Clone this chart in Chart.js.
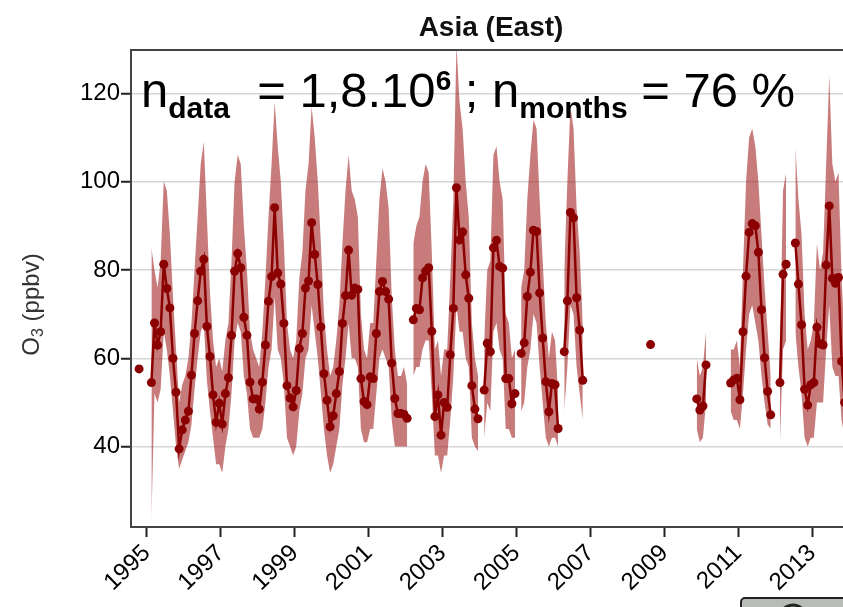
<!DOCTYPE html>
<html>
<head>
<meta charset="utf-8">
<script src="https://cdn.jsdelivr.net/npm/chart.js@4.4.1/dist/chart.umd.min.js"></script>
<style>
  html, body { margin: 0; padding: 0; background: #fff; }
  #wrap { width: 843px; height: 607px; position: relative; }
</style>
</head>
<body>
<div id="wrap"><canvas id="chart" width="843" height="607"></canvas></div>
<script>
// Monthly series, first value is October 1994
const startYear = 1994;
const startMonth = 10;

// monthly mean O3 (ppbv), one line per year
const o3Mean = [
  57.6, null, null,
  null, 54.5, 68, 63, 66, 81.3, 75.8, 71.4, 60, 52.3, 39.5, 43.8,
  46, 48, 56.2, 65.6, 73, 79.7, 82.4, 67.2, 60.4, 51.7, 45.5, 49.8,
  45.1, 52, 55.6, 65.2, 79.7, 83.7, 80.5, 69.3, 65.2, 54.6, 50.8, 50.8,
  48.5, 54.6, 63, 72.9, 78.5, 94.1, 79.3, 76.8, 67.9, 53.8, 51, 49,
  52.7, 62.2, 65.6, 75.9, 77.5, 90.7, 83.5, 76.7, 67.1, 56.5, 50.5, 44.5,
  47, 52, 57, 67.9, 74.2, 84.5, 74.3, 75.9, 75.6, 55.4, 50.2, 49.5,
  55.8, 55.4, 65.6, 75.1, 77.4, 75.1, 73.4, 58.9, 50.9, 47.5, 47.5, 47.3,
  46.4, null, 68.7, 71.3, 71, 78.2, 79.7, 80.5, 66.1, 46.8, 51.7, 42.6,
  50, 48.9, 60.8, 71.3, 98.6, 86.8, 88.6, 78.9, 73.6, 53.8, 48.5, 46.3,
  null, 52.8, 63.4, 61.5, 85, 86.7, 80.8, 80.4, 55.4, 55.4, 49.7, 52,
  null, 61.1, 63.5, 74, 79.5, 89, 88.7, 74.8, 64.6, 54.7, 47.9, 54.3,
  54, 44.1, null, 61.5, 73, 93, 91.8, 73.7, 66.4, 55, null, null,
  null, null, null, null, null, null, null, null, null, null, null, null,
  null, null, null, null, null, null, null, 63.1, null, null, null, null,
  null, null, null, null, null, null, null, null, null, null, 50.8, 48.3,
  49.2, 58.5, null, null, null, null, null, null, null, 54.4, 55.1, 55.5,
  50.6, 66, 78.6, 88.5, 90.5, 90, 84, 71, 60.1, 52.5, 47.2, null,
  null, 54.5, 79, 81.3, null, null, 86.1, 76.8, 67.6, 53, 49.4, 54,
  54.5, 67, 63.3, 63, 81.1, 94.5, 78.1, 77, 78.3, 59.3, 50, null
];

// lower edge of the shaded range
const o3Low = [
  null, null, null,
  null, 23, 52, 50, 53, 66, 62, 56, 48, 40, 35, 37,
  39, 41, 45, 53, 60, 66, 68, 55, 48, 42, 36, 36,
  34, 40, 44, 52, 64, 68, 66, 56, 52, 44, 42, 42,
  42, 44, 50, 58, 62, 74, 62, 60, 54, 42, 40, 38,
  40, 48, 52, 60, 62, 72, 66, 60, 52, 44, 38, 34,
  36, 40, 44, 54, 60, 68, 60, 60, 58, 44, 41, 41,
  44, 44, 52, 60, 62, 60, 58, 46, 40, 40, 40, 40,
  40, null, 56, 58, 58, 62, 64, 64, 52, 38, 38, 34,
  38, 38, 46, 56, 72, 66, 66, 60, 58, 42, 40, 39,
  null, 42, 50, 48, 66, 68, 62, 60, 44, 44, 42, 42,
  null, 48, 50, 58, 62, 70, 68, 58, 50, 42, 40, 42,
  42, 40, null, 48, 58, 72, 70, 58, 52, 46, null, null,
  null, null, null, null, null, null, null, null, null, null, null, null,
  null, null, null, null, null, null, null, null, null, null, null, null,
  null, null, null, null, null, null, null, null, null, null, 44, 41,
  42, 50, null, null, null, null, null, null, null, 48, 46, 46,
  44, 52, 62, 70, 72, 68, 64, 56, 50, 45, 44, null,
  null, 41, 62, 64, null, null, 66, 58, 52, 42, 40, 42,
  42, 50, 50, 50, 62, 72, 58, 56, 56, 46, 42, null
];

// upper edge of the shaded range
const o3High = [
  null, null, null,
  null, 85, 80, 76, 82, 100, 98, 88, 74, 62, 50, 54,
  56, 60, 68, 80, 92, 104, 109, 92, 75, 64, 58, 60,
  57, 64, 68, 82, 100, 106, 104, 90, 80, 66, 62, 60,
  58, 66, 78, 92, 104, 118, 108, 100, 86, 68, 62, 60,
  64, 78, 84, 98, 104, 117, 110, 100, 86, 70, 62, 56,
  58, 64, 72, 86, 98, 106, 98, 96, 92, 70, 62, 60,
  68, 68, 82, 96, 103, 100, 94, 74, 62, 56, 56, 58,
  54, null, 86, 90, 92, 100, 104, 102, 84, 62, 64, 56,
  62, 62, 78, 96, 131, 118, 112, 100, 92, 68, 60, 56,
  null, 64, 80, 82, 106, 108, 100, 96, 70, 68, 60, 62,
  null, 76, 80, 96, 106, 114, 112, 96, 82, 68, 60, 66,
  64, 52, null, 80, 100, 117, 112, 94, 84, 68, null, null,
  null, null, null, null, null, null, null, null, null, null, null, null,
  null, null, null, null, null, null, null, null, null, null, null, null,
  null, null, null, null, null, null, null, null, null, null, 60, 56,
  58, 66, null, null, null, null, null, null, null, 62, 62, 64,
  58, 80, 100, 110, 112, 108, 100, 88, 76, 66, 56, null,
  null, 62, 98, 102, null, null, 108, 96, 88, 70, 62, 64,
  68, 86, 80, 84, 104, 124, 104, 100, 102, 78, 64, null
];

const yearTicks = [1995, 1997, 1999, 2001, 2003, 2005, 2007, 2009, 2011, 2013];
const o3Ticks = [40, 60, 80, 100, 120];

const FONT = "'Liberation Sans', Arial, Helvetica, sans-serif";
const RED = "#8b0000";
const BAND = "rgba(160, 28, 28, 0.58)";

// month centres as decimal years
const monthX = o3Mean.map((_, i) => startYear + (startMonth - 1 + i + 0.5) / 12);
const toPoints = (arr) => arr.map((v, i) => ({ x: monthX[i], y: v }));

const overlay = {
  id: "overlay",
  afterDatasetsDraw(chart) {
    const { ctx, chartArea } = chart;
    ctx.save();
    // top frame line
    ctx.strokeStyle = "#444";
    ctx.lineWidth = 2;
    ctx.beginPath();
    ctx.moveTo(chartArea.left, chartArea.top);
    ctx.lineTo(chartArea.right, chartArea.top);
    ctx.stroke();

    // n_data / n_months annotation
    ctx.fillStyle = "#000";
    ctx.textBaseline = "alphabetic";
    ctx.textAlign = "left";
    const base = chartArea.top + 57;
    const parts = [
      ["n", "49px", "normal", 0],
      ["data", "30px", "bold", 11],
      ["  = 1,8.10", "49px", "normal", 0],
      ["6", "28px", "bold", -17],
      [" ; n", "49px", "normal", 0],
      ["months", "30px", "bold", 11],
      [" = 76 %", "49px", "normal", 0]
    ];
    let x = chartArea.left + 10;
    parts.forEach(([txt, size, weight, dy]) => {
      ctx.font = `${weight} ${size} ${FONT}`;
      ctx.fillText(txt, x, base + dy);
      x += ctx.measureText(txt).width;
    });
    ctx.restore();
  },
  afterDraw(chart) {
    const { ctx, chartArea } = chart;
    ctx.save();
    // title
    ctx.fillStyle = "#111";
    ctx.font = `bold 28px ${FONT}`;
    ctx.textAlign = "center";
    ctx.textBaseline = "middle";
    ctx.fillText("Asia (East)", 491, 28);

    // y axis title: O3 (ppbv)
    ctx.translate(32, (chartArea.top + chartArea.bottom) / 2 + 16);
    ctx.rotate(-Math.PI / 2);
    ctx.fillStyle = "#333";
    ctx.textBaseline = "middle";
    ctx.textAlign = "left";
    ctx.font = `24px ${FONT}`;
    const w1 = ctx.measureText("O").width;
    ctx.font = `16px ${FONT}`;
    const w2 = ctx.measureText("3").width;
    ctx.font = `24px ${FONT}`;
    const w3 = ctx.measureText(" (ppbv)").width;
    let x = -(w1 + w2 + w3) / 2;
    ctx.fillText("O", x, 0);
    x += w1;
    ctx.font = `16px ${FONT}`;
    ctx.fillText("3", x, 7);
    x += w2;
    ctx.font = `24px ${FONT}`;
    ctx.fillText(" (ppbv)", x, 0);
    ctx.restore();

    // grey widget edge peeking in at the bottom right
    ctx.save();
    ctx.fillStyle = "#b7bcb7";
    ctx.strokeStyle = "#222";
    ctx.lineWidth = 2;
    ctx.beginPath();
    ctx.roundRect(741, 598, 120, 24, 4);
    ctx.fill();
    ctx.stroke();
    ctx.lineWidth = 3;
    ctx.beginPath();
    ctx.arc(793, 618, 13, Math.PI * 1.1, Math.PI * 1.9);
    ctx.stroke();
    ctx.restore();
  }
};

new Chart(document.getElementById("chart"), {
  type: "line",
  data: {
    datasets: [
      {
        data: toPoints(o3Mean),
        borderColor: RED,
        borderWidth: 2.5,
        pointRadius: 4.5,
        pointBackgroundColor: RED,
        pointBorderWidth: 0,
        spanGaps: false,
        fill: false,
        order: 0
      },
      {
        data: toPoints(o3High),
        borderWidth: 0,
        pointRadius: 0,
        backgroundColor: BAND,
        fill: "+1",
        clip: 0,
        order: 1
      },
      {
        data: toPoints(o3Low),
        borderWidth: 0,
        pointRadius: 0,
        fill: false,
        clip: 0,
        order: 1
      }
    ]
  },
  options: {
    responsive: false,
    animation: false,
    devicePixelRatio: 1,
    layout: { autoPadding: false, padding: { top: 50, left: 0, right: 0, bottom: 0 } },
    plugins: {
      legend: { display: false },
      tooltip: { enabled: false }
    },
    scales: {
      x: {
        type: "linear",
        min: 1994.573,
        max: 2013.83,
        afterBuildTicks: (s) => { s.ticks = yearTicks.map((v) => ({ value: v })); },
        afterFit: (s) => {
          s.height = 80;
          s.paddingLeft = 0;
          s.paddingRight = 0;
        },
        ticks: {
          autoSkip: false,
          minRotation: 44,
          maxRotation: 44,
          padding: 2,
          color: "#000",
          font: { family: FONT, size: 24 },
          callback: (v) => String(v)
        },
        grid: {
          drawOnChartArea: false,
          tickLength: 10,
          tickWidth: 2,
          tickColor: "#222"
        },
        border: { color: "#444", width: 2 }
      },
      y: {
        min: 21.8,
        max: 129.8,
        afterBuildTicks: (s) => { s.ticks = o3Ticks.map((v) => ({ value: v })); },
        afterFit: (s) => {
          s.width = 131;
          s.paddingTop = 0;
          s.paddingBottom = 0;
        },
        ticks: {
          padding: 1,
          color: "#000",
          font: { family: FONT, size: 24 }
        },
        grid: {
          color: "#d6d6d6",
          lineWidth: 1.5,
          tickLength: 10,
          tickWidth: 2,
          tickColor: "#222"
        },
        border: { color: "#444", width: 2 }
      }
    }
  },
  plugins: [overlay]
});
</script>
</body>
</html>
